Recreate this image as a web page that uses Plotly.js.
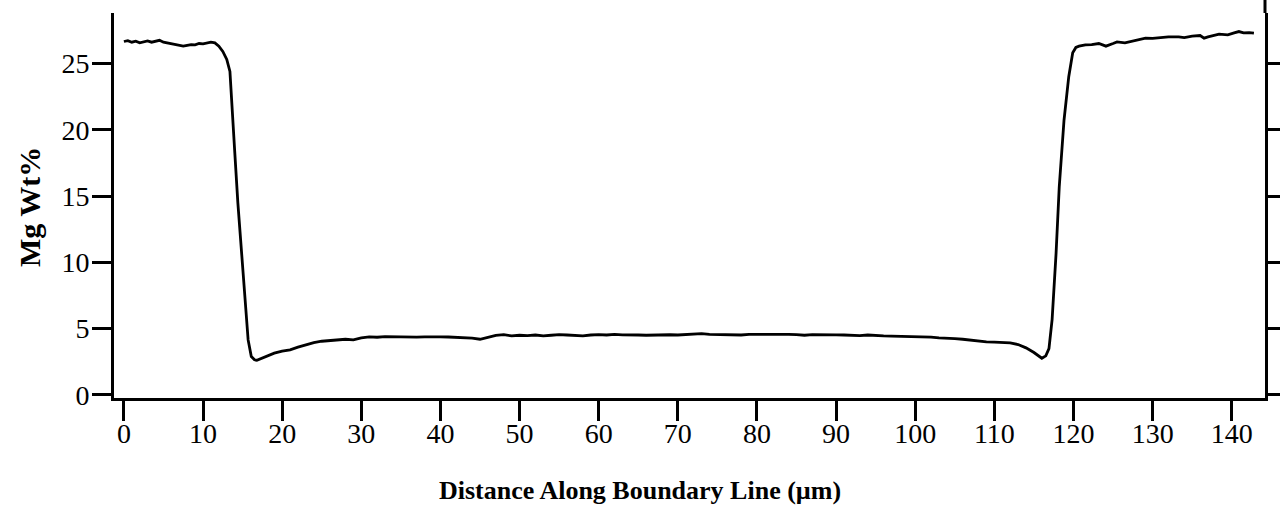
<!DOCTYPE html>
<html>
<head>
<meta charset="utf-8">
<script src="https://cdn.plot.ly/plotly-3.0.1.min.js"></script>
<style>html,body{margin:0;padding:0;background:#fff;}#chart{width:1280px;height:510px;}</style>
</head>
<body>
<div id="chart"></div>
<script>
// Distance along boundary line (µm)
const distance = [
  0, 0.5, 1.0, 1.5, 2.0, 2.5, 3.0, 3.5, 4.0, 4.5, 5.0, 5.5, 6.0, 6.5, 7.0, 7.5, 8.0, 8.5, 9.0, 9.5,
  10.0, 10.5, 11.0, 11.5, 12.0, 12.5, 13.0, 13.4, 13.6, 14.0, 14.4, 14.85, 15.3, 15.7, 16.1, 16.5, 16.8, 17.4, 18.0, 19.0,
  20.0, 21.0, 22.0, 23.0, 24.0, 25.0, 26.0, 27.0, 28.0, 29.0, 30.0, 31.0, 32.0, 33.0, 34.0, 35.0, 36.0, 37.0, 38.0, 39.0,
  40.0, 41.0, 42.0, 43.0, 44.0, 45.0, 46.0, 47.0, 48.0, 49.0, 50.0, 51.0, 52.0, 53.0, 54.0, 55.0, 56.0, 57.0, 58.0, 59.0,
  60.0, 61.0, 62.0, 63.0, 64.0, 65.0, 66.0, 67.0, 68.0, 69.0, 70.0, 71.0, 72.0, 73.0, 74.0, 75.0, 76.0, 77.0, 78.0, 79.0,
  80.0, 81.0, 82.0, 83.0, 84.0, 85.0, 86.0, 87.0, 88.0, 89.0, 90.0, 91.0, 92.0, 93.0, 94.0, 95.0, 96.0, 97.0, 98.0, 99.0,
  100.0, 101.0, 102.0, 103.0, 104.0, 105.0, 106.0, 107.0, 108.0, 109.0, 110.0, 111.0, 112.0, 113.0, 114.0, 115.0, 115.6, 116.0, 116.5, 116.9,
  117.3, 117.8, 118.2, 118.8, 119.4, 119.9, 120.3, 120.7, 121.5, 122.3, 123.2, 124.1, 125.0, 125.5, 126.5, 127.5, 128.5, 129.1, 130.0, 131.0,
  132.0, 133.3, 134.0, 135.0, 136.0, 136.5, 137.0, 138.4, 139.5, 140.3, 140.9, 141.5, 142.2, 142.8
];
// Mg weight percent
const mgWt = [
  26.65, 26.72, 26.60, 26.68, 26.55, 26.62, 26.70, 26.60, 26.66, 26.74, 26.60, 26.55, 26.48, 26.42, 26.36, 26.30, 26.36, 26.42, 26.40, 26.50,
  26.47, 26.55, 26.60, 26.55, 26.30, 25.90, 25.30, 24.40, 22.60, 18.40, 14.50, 10.70, 6.90, 4.15, 2.90, 2.65, 2.62, 2.75, 2.90, 3.15,
  3.30, 3.40, 3.60, 3.78, 3.95, 4.05, 4.10, 4.15, 4.20, 4.15, 4.30, 4.38, 4.35, 4.40, 4.38, 4.40, 4.38, 4.36, 4.38, 4.40,
  4.38, 4.37, 4.35, 4.33, 4.28, 4.20, 4.35, 4.50, 4.55, 4.45, 4.50, 4.48, 4.52, 4.45, 4.50, 4.55, 4.52, 4.50, 4.45, 4.52,
  4.55, 4.52, 4.56, 4.53, 4.55, 4.52, 4.50, 4.53, 4.55, 4.54, 4.52, 4.55, 4.60, 4.62, 4.57, 4.55, 4.57, 4.55, 4.52, 4.56,
  4.57, 4.55, 4.57, 4.55, 4.56, 4.55, 4.50, 4.55, 4.53, 4.50, 4.53, 4.52, 4.50, 4.48, 4.52, 4.47, 4.45, 4.43, 4.42, 4.40,
  4.38, 4.35, 4.36, 4.30, 4.30, 4.25, 4.20, 4.12, 4.05, 4.00, 3.98, 3.95, 3.92, 3.80, 3.55, 3.20, 2.95, 2.77, 2.95, 3.50,
  5.70, 10.70, 15.70, 20.70, 24.00, 25.80, 26.20, 26.30, 26.40, 26.42, 26.50, 26.30, 26.50, 26.62, 26.55, 26.70, 26.85, 26.90, 26.88, 26.95,
  27.00, 27.00, 26.95, 27.05, 27.10, 26.90, 27.00, 27.20, 27.15, 27.30, 27.40, 27.30, 27.32, 27.28
];
const xTicks = [0, 10, 20, 30, 40, 50, 60, 70, 80, 90, 100, 110, 120, 130, 140];
const yTicks = [0, 5, 10, 15, 20, 25];
const xTitle = 'Distance Along Boundary Line (µm)';
const yTitle = 'Mg Wt%';

const serif = "'Liberation Serif', 'Times New Roman', serif";

Plotly.newPlot('chart', [{
  x: distance,
  y: mgWt,
  type: 'scatter',
  mode: 'lines',
  line: {color: '#000', width: 2.8},
  hoverinfo: 'skip'
}], {
  width: 1280,
  height: 510,
  margin: {l: 114, r: 15, t: 13, b: 112},
  paper_bgcolor: '#fff',
  plot_bgcolor: '#fff',
  showlegend: false,
  font: {family: serif, color: '#000', size: 28},
  xaxis: {
    range: [-1.25, 144.2],
    tickvals: xTicks,
    ticktext: xTicks.map(String),
    ticks: 'outside',
    ticklen: 20,
    tickwidth: 3,
    tickcolor: '#000',
    ticklabelstandoff: -12,
    showline: true,
    linewidth: 3,
    linecolor: '#000',
    mirror: false,
    showgrid: false,
    zeroline: false,
    tickfont: {family: serif, size: 28, color: '#000'}
  },
  yaxis: {
    range: [-0.23, 28.8],
    tickvals: yTicks,
    ticktext: yTicks.map(String),
    ticks: 'outside',
    ticklen: 19,
    tickwidth: 3,
    tickcolor: '#000',
    ticklabelstandoff: -3,
    showline: true,
    linewidth: 3,
    linecolor: '#000',
    mirror: 'ticks',
    showgrid: false,
    zeroline: false,
    tickfont: {family: serif, size: 28, color: '#000'}
  },
  shapes: [{
    type: 'line', xref: 'paper', yref: 'paper',
    x0: 1, x1: 1, y0: 1, y1: 1.035,
    line: {color: '#000', width: 3}
  }],
  annotations: [{
    text: '<b>' + xTitle + '</b>',
    xref: 'paper', yref: 'paper',
    x: 0.457, y: -0.239, xanchor: 'center', yanchor: 'middle',
    showarrow: false,
    font: {family: serif, size: 26, color: '#000'}
  }, {
    text: '<b>' + yTitle + '</b>',
    xref: 'paper', yref: 'paper',
    x: -0.0738, y: 0.496, xanchor: 'center', yanchor: 'middle',
    textangle: -90,
    showarrow: false,
    font: {family: serif, size: 30, color: '#000'}
  }]
}, {displayModeBar: false, staticPlot: true});
</script>
</body>
</html>
